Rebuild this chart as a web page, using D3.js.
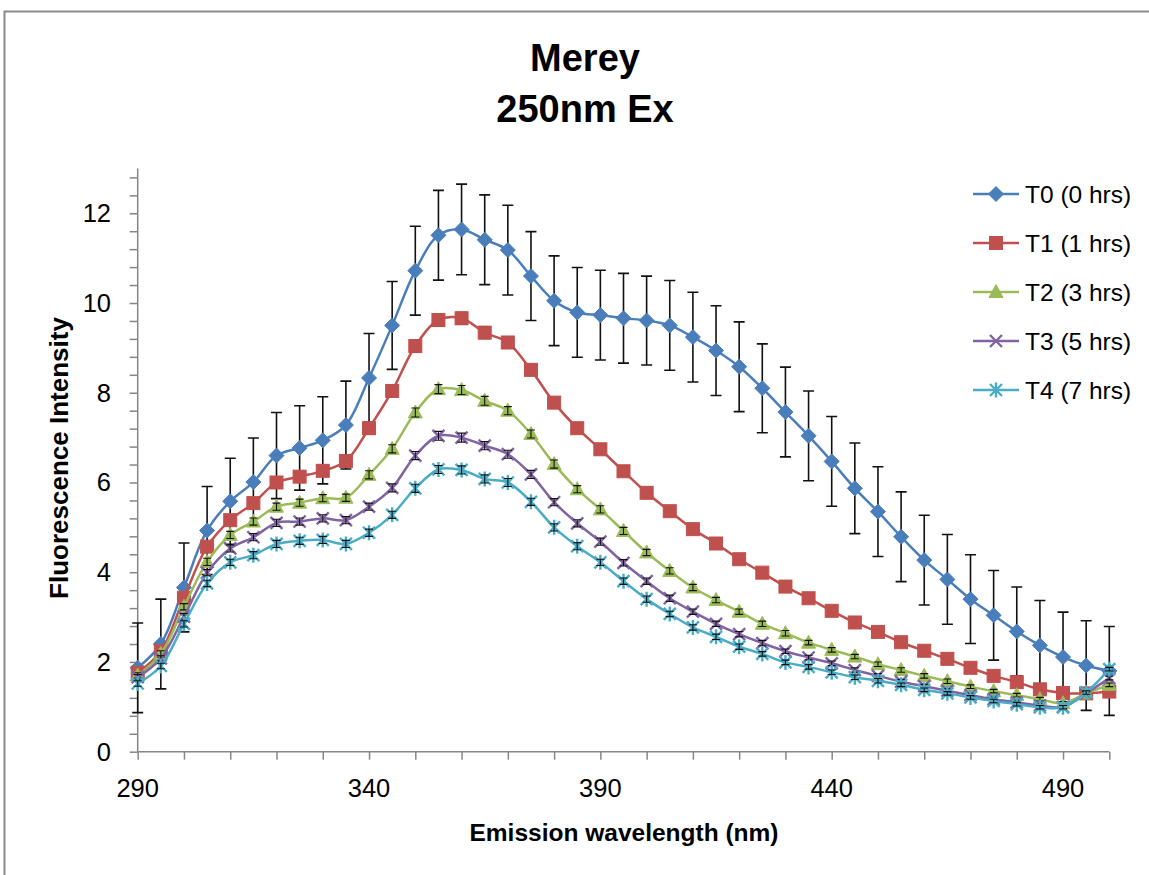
<!DOCTYPE html>
<html>
<head>
<meta charset="utf-8">
<script src="https://cdn.jsdelivr.net/npm/d3@7/dist/d3.min.js"></script>
<style>
  html, body { margin: 0; padding: 0; background: #fff; }
  svg { display: block; font-family: "Liberation Sans", Arial, sans-serif; }
</style>
</head>
<body>
<svg id="chart" width="1149" height="875"></svg>
<script>
// Emission wavelengths (nm)
const wavelengths = [290, 295, 300, 305, 310, 315, 320, 325, 330, 335, 340, 345, 350, 355, 360, 365, 370, 375, 380, 385, 390, 395, 400, 405, 410, 415, 420, 425, 430, 435, 440, 445, 450, 455, 460, 465, 470, 475, 480, 485, 490, 495, 500];

const seriesNames = ["T0 (0 hrs)", "T1 (1 hrs)", "T2 (3 hrs)", "T3 (5 hrs)", "T4 (7 hrs)"];

// Fluorescence intensity per time point
const t0 = [1.87, 2.40, 3.66, 4.93, 5.58, 6.01, 6.60, 6.77, 6.94, 7.28, 8.33, 9.50, 10.72, 11.51, 11.64, 11.41, 11.18, 10.60, 10.05, 9.79, 9.73, 9.66, 9.61, 9.50, 9.24, 8.94, 8.58, 8.10, 7.57, 7.04, 6.47, 5.87, 5.35, 4.79, 4.27, 3.84, 3.40, 3.04, 2.68, 2.37, 2.11, 1.92, 1.80];
const t1 = [1.76, 2.24, 3.43, 4.57, 5.16, 5.54, 6.00, 6.13, 6.26, 6.48, 7.21, 8.04, 9.04, 9.62, 9.66, 9.34, 9.12, 8.51, 7.78, 7.21, 6.74, 6.25, 5.77, 5.36, 4.96, 4.64, 4.29, 3.99, 3.68, 3.42, 3.14, 2.88, 2.67, 2.44, 2.25, 2.07, 1.87, 1.69, 1.55, 1.39, 1.31, 1.30, 1.34];
const t2 = [1.70, 2.18, 3.23, 4.23, 4.83, 5.13, 5.46, 5.55, 5.65, 5.66, 6.17, 6.75, 7.56, 8.08, 8.06, 7.82, 7.60, 7.08, 6.41, 5.85, 5.40, 4.92, 4.44, 4.03, 3.66, 3.38, 3.12, 2.85, 2.64, 2.43, 2.27, 2.12, 1.95, 1.82, 1.69, 1.57, 1.45, 1.35, 1.26, 1.17, 1.08, 1.30, 1.49];
const t3 = [1.66, 2.08, 3.01, 3.99, 4.53, 4.78, 5.10, 5.13, 5.20, 5.16, 5.46, 5.88, 6.60, 7.04, 7.00, 6.82, 6.63, 6.18, 5.56, 5.09, 4.68, 4.21, 3.80, 3.42, 3.12, 2.85, 2.62, 2.42, 2.24, 2.10, 1.97, 1.82, 1.69, 1.56, 1.46, 1.36, 1.26, 1.17, 1.10, 1.03, 1.00, 1.30, 1.64];
const t4 = [1.52, 1.91, 2.85, 3.75, 4.22, 4.38, 4.63, 4.70, 4.72, 4.63, 4.88, 5.28, 5.87, 6.29, 6.28, 6.08, 6.00, 5.57, 5.00, 4.58, 4.22, 3.80, 3.40, 3.07, 2.77, 2.56, 2.34, 2.18, 1.99, 1.89, 1.77, 1.66, 1.58, 1.49, 1.38, 1.30, 1.21, 1.13, 1.06, 0.99, 0.99, 1.32, 1.84];

// Standard deviations (error bars)
const t0Err = [1.00, 1.00, 0.99, 0.98, 0.96, 0.98, 0.96, 0.94, 0.97, 0.98, 0.99, 0.98, 0.99, 1.00, 1.01, 1.00, 1.00, 0.99, 1.00, 1.00, 1.00, 1.00, 0.99, 1.00, 1.00, 1.00, 1.00, 0.99, 1.00, 1.00, 1.00, 1.01, 1.00, 1.00, 1.00, 1.00, 0.99, 1.00, 0.99, 1.00, 1.00, 1.00, 0.99];
const t1Err = [0.08, 0.08, 0.09, 0.10, 0.10, 0.10, 0.11, 0.11, 0.11, 0.11, 0.12, 0.12, 0.13, 0.13, 0.13, 0.13, 0.12, 0.12, 0.11, 0.11, 0.10, 0.10, 0.09, 0.09, 0.09, 0.08, 0.08, 0.08, 0.07, 0.07, 0.07, 0.07, 0.06, 0.06, 0.06, 0.06, 0.06, 0.05, 0.05, 0.05, 0.05, 0.05, 0.05];
const t2Err = [0.06, 0.07, 0.07, 0.08, 0.08, 0.08, 0.08, 0.08, 0.08, 0.08, 0.09, 0.09, 0.10, 0.10, 0.10, 0.10, 0.09, 0.09, 0.09, 0.08, 0.08, 0.08, 0.07, 0.07, 0.07, 0.06, 0.06, 0.06, 0.06, 0.05, 0.05, 0.05, 0.05, 0.05, 0.05, 0.05, 0.04, 0.04, 0.04, 0.04, 0.04, 0.04, 0.04];
const t3Err = [0.06, 0.06, 0.07, 0.07, 0.08, 0.08, 0.08, 0.08, 0.08, 0.08, 0.08, 0.09, 0.09, 0.10, 0.10, 0.09, 0.09, 0.09, 0.08, 0.08, 0.08, 0.07, 0.07, 0.07, 0.06, 0.06, 0.06, 0.06, 0.05, 0.05, 0.05, 0.05, 0.05, 0.05, 0.04, 0.04, 0.04, 0.04, 0.04, 0.04, 0.04, 0.04, 0.04];
const t4Err = [0.06, 0.06, 0.07, 0.07, 0.07, 0.08, 0.08, 0.08, 0.08, 0.08, 0.08, 0.08, 0.09, 0.09, 0.09, 0.09, 0.09, 0.08, 0.08, 0.08, 0.07, 0.07, 0.07, 0.06, 0.06, 0.06, 0.06, 0.05, 0.05, 0.05, 0.05, 0.05, 0.05, 0.04, 0.04, 0.04, 0.04, 0.04, 0.04, 0.04, 0.04, 0.04, 0.04];

// Axis ticks
const xTickValues = [290, 300, 310, 320, 330, 340, 350, 360, 370, 380, 390, 400, 410, 420, 430, 440, 450, 460, 470, 480, 490, 500];
const xTickLabels = [290, 340, 390, 440, 490];
const yTickValues = [0, 0.4, 0.8, 1.2, 1.6, 2, 2.4, 2.8, 3.2, 3.6, 4, 4.4, 4.8, 5.2, 5.6, 6, 6.4, 6.8, 7.2, 7.6, 8, 8.4, 8.8, 9.2, 9.6, 10, 10.4, 10.8, 11.2, 11.6, 12, 12.4, 12.8];
const yTickLabels = [0, 2, 4, 6, 8, 10, 12];

const seriesValues = [t0, t1, t2, t3, t4];
const seriesErrors = [t0Err, t1Err, t2Err, t3Err, t4Err];
const colors = ["#4a7ebb", "#c0504d", "#9bbb59", "#8064a2", "#4bacc6"];
const markerKinds = ["diamond", "square", "triangle", "x", "star"];

const svg = d3.select("#chart");

// Chart frame
svg.append("path")
  .attr("d", "M4.5,875 V11.5 H1149")
  .attr("fill", "none")
  .attr("stroke", "#8a8a8a")
  .attr("stroke-width", 2);

const x = d3.scaleLinear().domain([290, 500]).range([137.7, 1109.3]);
const y = d3.scaleLinear().domain([0, 13]).range([751.7, 168.4]);

// Title
svg.append("text").attr("x", 585).attr("y", 71).attr("text-anchor", "middle")
  .attr("font-size", 38).attr("font-weight", "bold").text("Merey");
svg.append("text").attr("x", 585).attr("y", 122).attr("text-anchor", "middle")
  .attr("font-size", 38).attr("font-weight", "bold").text("250nm Ex");

// Axes
const axisColor = "#868686";
const xAxis = d3.axisBottom(x).tickValues(xTickValues).tickSize(8).tickFormat("");
const gx = svg.append("g").attr("transform", `translate(0,${y(0)})`).call(xAxis);
gx.select(".domain").attr("stroke", axisColor).attr("stroke-width", 1.5).attr("d", `M${x(290)},0H${x(500)}`);
gx.selectAll(".tick line").attr("stroke", axisColor).attr("stroke-width", 1.5);

const yAxis = d3.axisLeft(y).tickValues(yTickValues).tickSize(8).tickFormat("");
const gy = svg.append("g").attr("transform", `translate(${x(290)},0)`).call(yAxis);
gy.select(".domain").attr("stroke", axisColor).attr("stroke-width", 1.5).attr("d", `M0,${y(0)}V${y(13)}`);
gy.selectAll(".tick line").attr("stroke", axisColor).attr("stroke-width", 1.5);

svg.append("g").selectAll("text").data(xTickLabels).join("text")
  .attr("x", d => x(d)).attr("y", 797).attr("text-anchor", "middle")
  .attr("font-size", 25.5).attr("fill", "#000").text(d => d);

svg.append("g").selectAll("text").data(yTickLabels).join("text")
  .attr("x", 111).attr("y", d => y(d) + 9).attr("text-anchor", "end")
  .attr("font-size", 25.5).attr("fill", "#000").text(d => d);

// Axis titles
svg.append("text").attr("x", 624).attr("y", 841).attr("text-anchor", "middle")
  .attr("font-size", 24.5).attr("font-weight", "bold").text("Emission wavelength (nm)");
svg.append("text").attr("transform", "translate(68,458) rotate(-90)").attr("text-anchor", "middle")
  .attr("font-size", 26).attr("font-weight", "bold").text("Fluorescence Intensity");

// Marker drawing
function drawMarker(g, kind, color) {
  if (kind === "diamond") {
    g.append("path").attr("d", "M0,-7.5L7.5,0L0,7.5L-7.5,0Z").attr("fill", color).attr("stroke", color).attr("stroke-width", 1);
  } else if (kind === "square") {
    g.append("rect").attr("x", -6.5).attr("y", -6.5).attr("width", 13).attr("height", 13)
      .attr("fill", color).attr("stroke", color).attr("stroke-width", 1);
  } else if (kind === "triangle") {
    g.append("path").attr("d", "M0,-7.5L7,5.5L-7,5.5Z").attr("fill", color).attr("stroke", color).attr("stroke-width", 1);
  } else if (kind === "x") {
    g.append("path").attr("d", "M-6,-6L6,6M-6,6L6,-6")
      .attr("stroke", color).attr("stroke-width", 2.4).attr("fill", "none");
  } else if (kind === "star") {
    g.append("path").attr("d", "M-6,-6L6,6M-6,6L6,-6M0,-7.5V7.5")
      .attr("stroke", color).attr("stroke-width", 2.4).attr("fill", "none");
  }
}

function drawErrorBars(layer, vals, errs, capHalf, width) {
  const eb = layer.append("g").attr("stroke", "#111").attr("stroke-width", width).attr("fill", "none");
  eb.selectAll("path").data(wavelengths.map((w, i) => ({ w, v: vals[i], e: errs[i] }))).join("path")
    .attr("d", d => {
      const cx = x(d.w), hi = y(d.v + d.e), lo = y(d.v - d.e);
      return `M${cx},${hi}V${lo}M${cx - capHalf},${hi}H${cx + capHalf}M${cx - capHalf},${lo}H${cx + capHalf}`;
    });
}

const line = d3.line().x(d => x(d.w)).y(d => y(d.v)).curve(d3.curveCatmullRom.alpha(0.5));

const plot = svg.append("g");
seriesValues.forEach((vals, s) => {
  const pts = wavelengths.map((w, i) => ({ w, v: vals[i] }));
  const layer = plot.append("g");
  // large T0 and hidden T1 bars sit beneath their markers; others on top
  if (s < 2) drawErrorBars(layer, vals, seriesErrors[s], 5.5, 1.6);
  layer.append("path").datum(pts).attr("d", line)
    .attr("fill", "none").attr("stroke", colors[s]).attr("stroke-width", 2.5);
  layer.selectAll("g.m").data(pts).join("g").attr("class", "m")
    .attr("transform", d => `translate(${x(d.w)},${y(d.v)})`)
    .each(function () { drawMarker(d3.select(this), markerKinds[s], colors[s]); });
  if (s >= 2) drawErrorBars(layer, vals, seriesErrors[s], 4, 1.1);
});

// Legend
const legend = svg.append("g");
seriesNames.forEach((name, s) => {
  const cy = 194 + s * 49;
  legend.append("line").attr("x1", 973).attr("x2", 1019).attr("y1", cy).attr("y2", cy)
    .attr("stroke", colors[s]).attr("stroke-width", 2.5);
  const mg = legend.append("g").attr("transform", `translate(996,${cy})`);
  drawMarker(mg, markerKinds[s], colors[s]);
  legend.append("text").attr("x", 1025).attr("y", cy + 9)
    .attr("font-size", 24.5).attr("fill", "#000").text(name);
});
</script>
</body>
</html>
